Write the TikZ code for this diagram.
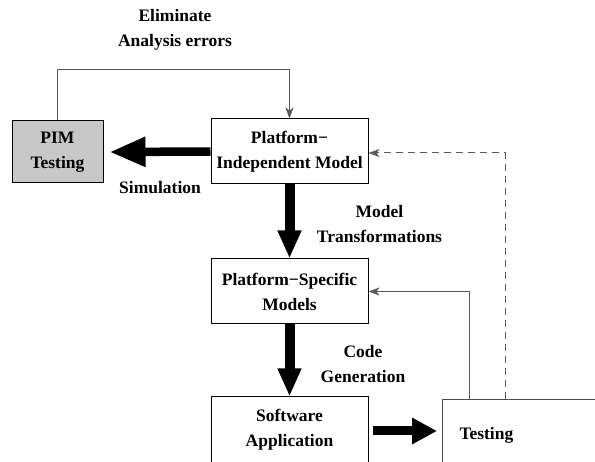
\documentclass[tikz,border=0pt]{standalone}
\usepackage{fontspec}
\setmainfont{Liberation Serif}[BoldFont={Liberation Serif Bold}]
\usetikzlibrary{arrows.meta,calc}
\begin{document}
\begin{tikzpicture}[x=1pt,y=-1pt,
  every node/.style={font=\fontsize{17.5}{25}\selectfont\bfseries, align=center},
  box/.style={draw=black, line width=1pt, inner sep=0pt},
  thin/.style={draw=black!65, line width=1pt, -{Stealth[length=11pt,width=8pt,inset=3pt]}},
  bigv/.style={line width=10pt, -{Triangle[length=28pt,width=22pt]}},
  lbl/.style={inner sep=0pt}
]
\useasboundingbox (0,0) rectangle (595,462);
\clip (0,0) rectangle (595,462);
\fill[white] (0,0) rectangle (595,462);

\node[box, fill=black!22, minimum width=91pt, minimum height=62pt] (pimt) at (57.5,152) {PIM\\Testing};
\node[box, minimum width=157pt, minimum height=65pt] (pim) at (289.5,151.5) {Platform−\\Independent Model};
\node[box, minimum width=157pt, minimum height=65pt] (psm) at (289.5,291.5) {Platform−Specific\\Models};
\node[box, minimum width=157pt, minimum height=66pt] (sa) at (289.5,430) {Software\\Application};
\node[box, draw=black!70, anchor=north west, inner xsep=17pt, text width=166pt, align=left, minimum height=72pt] (test) at (442,399) {Testing};

\node[lbl] (elim) at (175,29.5) {Eliminate\\Analysis errors};
\node[lbl] (sim) at (160,188) {Simulation};
\node[lbl] (mt) at (379.5,224) {Model\\Transformations};
\node[lbl] (cg) at (363,364.5) {Code\\Generation};

% feedback from PIM testing
\draw[thin] (pimt.north) -- ++(0,-51) -| (pim.north);
% simulation
\draw[line width=8.5pt, -{Triangle[length=36pt,width=28pt]}] (pim.west) -- ($(pimt.east)+(6,0)$);
% model transformations
\draw[bigv] (pim.south) -- (psm.north);
% code generation
\draw[bigv] (psm.south) -- (sa.north);
% to testing
\coordinate (sa1) at ($(sa.east)+(4,1)$);
\coordinate (te1) at ($(test.north west)+(-5,32)$);
\draw[line width=9pt, -{Triangle[length=25pt,width=25pt]}] (sa1) -- (te1);
% testing feedback to PSM
\coordinate (t1) at ($(test.north west)+(27,0)$);
\draw[thin] (t1) |- (psm.east);
% dashed to PIM
\coordinate (t2) at ($(test.north west)+(63,0)$);
\coordinate (p2) at ($(pim.east)+(0,1.5)$);
\draw[thin, dashed, dash pattern=on 7pt off 5pt] (t2) |- (p2);
\end{tikzpicture}
\end{document}
